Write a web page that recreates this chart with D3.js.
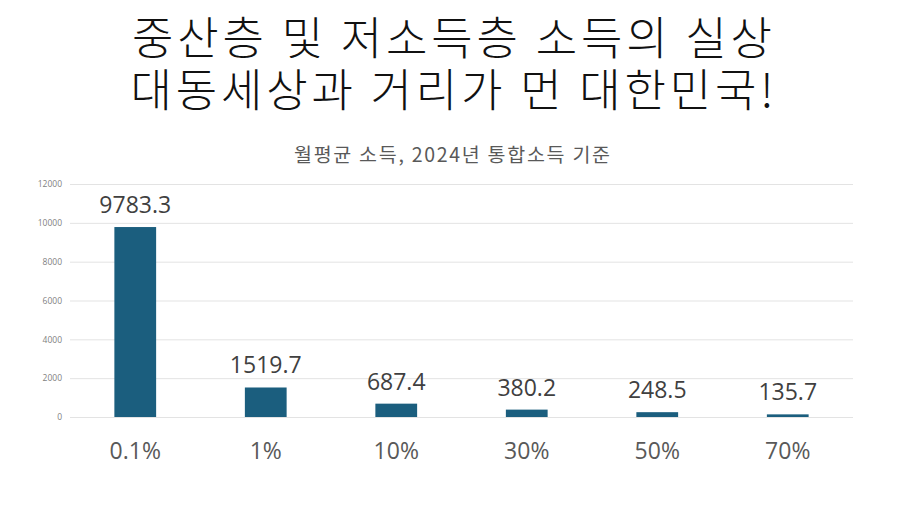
<!DOCTYPE html>
<html>
<head>
<meta charset="utf-8">
<script src="https://cdn.jsdelivr.net/npm/d3@7"></script>
<style>
  body { margin: 0; background: #fff; }
  text { font-family: "Noto Sans CJK KR", "Noto Sans", sans-serif; }
  .num { font-family: "Open Sans", "Noto Sans", sans-serif; }
</style>
</head>
<body>
<div id="chart"></div>
<script>
// Données
const titleLines = ["중산층 및 저소득층 소득의 실상", "대동세상과 거리가 먼 대한민국!"];
const subtitle = "월평균 소득, 2024년 통합소득 기준";
const categories = ["0.1%", "1%", "10%", "30%", "50%", "70%"];
const values = [9783.3, 1519.7, 687.4, 380.2, 248.5, 135.7];
const yTicks = [0, 2000, 4000, 6000, 8000, 10000, 12000];

// Canevas
const width = 904;
const height = 510;
const margin = { top: 184, right: 51, bottom: 93, left: 70 };

const svg = d3.select("#chart")
    .append("svg")
    .attr("width", width)
    .attr("height", height);

// Titre
svg.append("g")
    .selectAll("text")
    .data(titleLines)
    .join("text")
    .attr("x", width / 2)
    .attr("y", (d, i) => 55 + i * 52)
    .attr("text-anchor", "middle")
    .attr("font-size", "45px")
    .attr("font-weight", 300)
    .attr("textLength", (d, i) => i === 0 ? 640 : 643)
    .attr("lengthAdjust", "spacing")
    .attr("fill", "#111")
    .text(d => d);

// Sous-titre
svg.append("text")
    .attr("x", width / 2)
    .attr("y", 162)
    .attr("text-anchor", "middle")
    .attr("font-size", "19.5px")
    .attr("textLength", 316)
    .attr("lengthAdjust", "spacing")
    .attr("fill", "#595959")
    .text(subtitle);

const plot = svg.append("g")
    .attr("transform", `translate(${margin.left}, ${margin.top})`);

const innerW = width - margin.left - margin.right;
const innerH = height - margin.top - margin.bottom;

// Échelles
const x = d3.scaleBand()
    .domain(categories)
    .range([0, innerW])
    .paddingInner(0.68)
    .paddingOuter(0.34);

const y = d3.scaleLinear()
    .domain([0, 12000])
    .range([innerH, 0]);

// Grille + axe Y
const yAxis = plot.append("g")
    .call(d3.axisLeft(y).tickValues(yTicks).tickSize(-innerW).tickPadding(8).tickFormat(d3.format("d")));
yAxis.select(".domain").remove();
yAxis.selectAll(".tick line").attr("stroke", "#e3e3e3");
yAxis.selectAll(".tick text")
    .attr("class", "num")
    .attr("font-size", "8.5px")
    .attr("fill", "#7f7f7f");

// Barres
plot.selectAll("rect.bar")
    .data(values)
    .join("rect")
    .attr("class", "bar")
    .attr("x", (d, i) => x(categories[i]))
    .attr("y", d => y(d))
    .attr("width", x.bandwidth())
    .attr("height", d => innerH - y(d))
    .attr("fill", "#1b5e7e");

// Valeurs
plot.selectAll("text.val")
    .data(values)
    .join("text")
    .attr("class", "val num")
    .attr("x", (d, i) => x(categories[i]) + x.bandwidth() / 2)
    .attr("y", d => y(d) - 14)
    .attr("text-anchor", "middle")
    .attr("font-size", "23px")
    .attr("fill", "#404040")
    .text(d => d.toFixed(1));

// Axe X
const xAxis = plot.append("g")
    .attr("transform", `translate(0, ${innerH})`)
    .call(d3.axisBottom(x).tickSize(0).tickPadding(26));
xAxis.select(".domain").remove();
xAxis.selectAll(".tick text")
    .attr("class", "num")
    .attr("font-size", "23px")
    .attr("fill", "#595959");
</script>
</body>
</html>
